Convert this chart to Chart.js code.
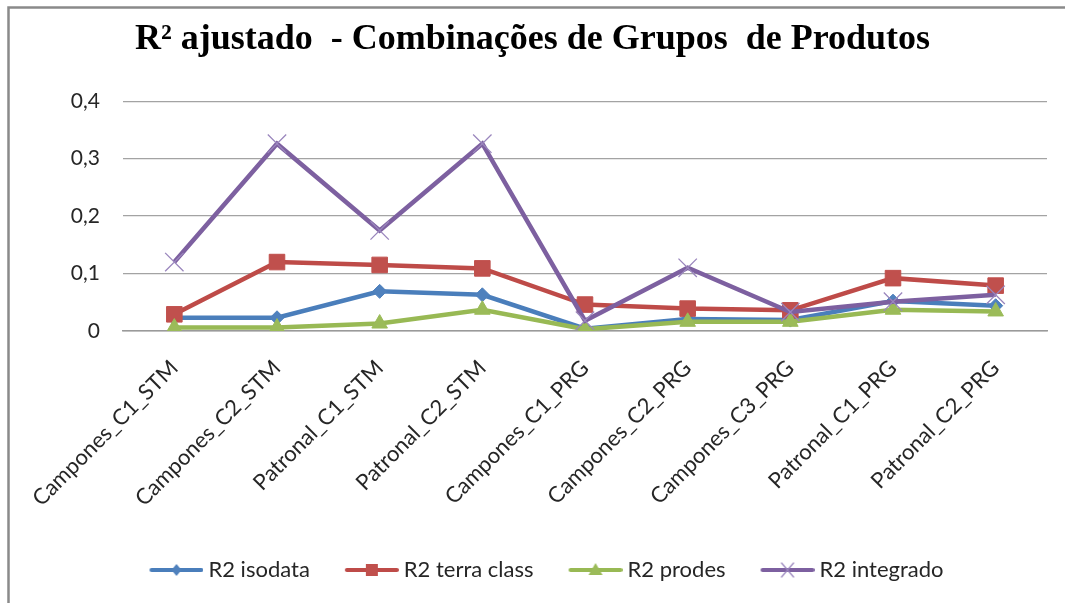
<!DOCTYPE html>
<html>
<head>
<meta charset="utf-8">
<script src="https://cdn.jsdelivr.net/npm/chart.js@4"></script>
<style>
  html, body { margin: 0; padding: 0; background: #ffffff; }
  #wrap { width: 1065px; height: 603px; position: relative; }
</style>
</head>
<body>
<div id="wrap"><canvas id="chart" width="1065" height="603"></canvas></div>
<script>
// Product-group combinations (x axis)
const categories = [
  'Campones_C1_STM', 'Campones_C2_STM', 'Patronal_C1_STM', 'Patronal_C2_STM',
  'Campones_C1_PRG', 'Campones_C2_PRG', 'Campones_C3_PRG', 'Patronal_C1_PRG', 'Patronal_C2_PRG'
];

// Adjusted R² per classification source
const r2Isodata    = [0.023, 0.023, 0.069, 0.063, 0.004, 0.021, 0.019, 0.052, 0.044];
const r2TerraClass = [0.029, 0.120, 0.115, 0.109, 0.046, 0.039, 0.036, 0.092, 0.079];
const r2Prodes     = [0.006, 0.006, 0.013, 0.037, 0.003, 0.016, 0.016, 0.037, 0.034];
const r2Integrado  = [0.120, 0.326, 0.175, 0.326, 0.018, 0.110, 0.033, 0.051, 0.063];

const seriesNames = ['R2 isodata', 'R2 terra class', 'R2 prodes', 'R2 integrado'];

// Y axis tick labels (decimal comma)
const yTickValues = [0, 0.1, 0.2, 0.3, 0.4];
const yTickLabels = ['0', '0,1', '0,2', '0,3', '0,4'];

const titleText = 'R² ajustado  - Combinações de Grupos  de Produtos';

const BLUE = '#4a7ebb', BLUE_PT = '#4f81bd';
const RED = '#be4b48', RED_PT = '#c0504d';
const GREEN = '#98b954', GREEN_PT = '#9bbb59';
const PURPLE = '#7d60a0', PURPLE_PT = '#9a86bd';

// Legend icons: a short line with the series marker in the middle
function legendIcon(lineColor, drawMarker) {
  const c = document.createElement('canvas');
  c.width = 56; c.height = 18;
  const g = c.getContext('2d');
  g.strokeStyle = lineColor;
  g.lineWidth = 4;
  g.lineCap = 'round';
  g.beginPath(); g.moveTo(4, 9); g.lineTo(54, 9); g.stroke();
  drawMarker(g, 29, 9);
  return c;
}
const legendIcons = [
  legendIcon(BLUE, (g, x, y) => {
    g.fillStyle = BLUE_PT;
    g.beginPath(); g.moveTo(x, y - 6); g.lineTo(x + 5, y); g.lineTo(x, y + 6); g.lineTo(x - 5, y); g.closePath(); g.fill();
  }),
  legendIcon(RED, (g, x, y) => {
    g.fillStyle = RED_PT; g.fillRect(x - 6, y - 6, 12, 12);
  }),
  legendIcon(GREEN, (g, x, y) => {
    g.fillStyle = GREEN_PT;
    g.beginPath(); g.moveTo(x, y - 7); g.lineTo(x + 7, y + 5); g.lineTo(x - 7, y + 5); g.closePath(); g.fill();
  }),
  legendIcon(PURPLE, (g, x, y) => {
    g.strokeStyle = PURPLE_PT; g.lineWidth = 1.2;
    g.beginPath(); g.moveTo(x - 6, y - 7); g.lineTo(x + 6, y + 7); g.moveTo(x + 6, y - 7); g.lineTo(x - 6, y + 7); g.stroke();
  })
];

// Gray frame around the chart
const framePlugin = {
  id: 'frame',
  beforeDraw(chart) {
    const ctx = chart.ctx;
    ctx.save();
    ctx.fillStyle = '#ffffff';
    ctx.fillRect(0, 0, chart.width, chart.height);
    ctx.strokeStyle = '#8a8a8a';
    ctx.lineWidth = 2.5;
    ctx.strokeRect(8.5, 7.5, 1200, 800);
    ctx.restore();
  }
};

// The legend row sits a little right of the page centre, under the plot area
const legendShift = {
  id: 'legendShift',
  afterLayout(chart) {
    const lg = chart.legend;
    if (lg) { lg.left += 16; lg.right += 16; }
  }
};

const baseFont = 'Lato, "Open Sans", sans-serif';

new Chart(document.getElementById('chart'), {
  type: 'line',
  data: {
    labels: categories,
    datasets: [
      { label: seriesNames[0], data: r2Isodata, order: 4,
        borderColor: BLUE, backgroundColor: BLUE_PT, borderWidth: 4.5,
        pointStyle: 'rectRot', pointRadius: 7, pointBorderColor: BLUE_PT, pointBackgroundColor: BLUE_PT, pointBorderWidth: 1 },
      { label: seriesNames[1], data: r2TerraClass, order: 3,
        borderColor: RED, backgroundColor: RED_PT, borderWidth: 4.5,
        pointStyle: 'rect', pointRadius: 11, pointBorderColor: RED_PT, pointBackgroundColor: RED_PT, pointBorderWidth: 1 },
      { label: seriesNames[2], data: r2Prodes, order: 2,
        borderColor: GREEN, backgroundColor: GREEN_PT, borderWidth: 4.5,
        pointStyle: 'triangle', pointRadius: 9, pointBorderColor: GREEN_PT, pointBackgroundColor: GREEN_PT, pointBorderWidth: 1 },
      { label: seriesNames[3], data: r2Integrado, order: 1,
        borderColor: PURPLE, backgroundColor: PURPLE_PT, borderWidth: 4.5,
        pointStyle: 'crossRot', pointRadius: 13, pointBorderColor: PURPLE_PT, pointBackgroundColor: PURPLE_PT, pointBorderWidth: 1.3 }
    ]
  },
  options: {
    responsive: false,
    animation: false,
    layout: { padding: { left: 18, right: 18, top: 4, bottom: 12 } },
    elements: { line: { tension: 0 } },
    scales: {
      x: {
        offset: true,
        grid: { display: false, drawTicks: false },
        border: { display: true, color: '#9a9a9a', width: 1.5 },
        ticks: {
          autoSkip: false, maxRotation: 45, minRotation: 45, padding: 24,
          color: '#262626', font: { family: baseFont, size: 22 }
        },
        afterFit(scale) { scale.height = 189; }
      },
      y: {
        min: 0, max: 0.4,
        afterBuildTicks(scale) { scale.ticks = yTickValues.map(v => ({ value: v })); },
        grid: { color: '#a3a3a3', lineWidth: 1.3, drawTicks: false },
        border: { display: false },
        ticks: {
          padding: 23, color: '#262626', font: { family: baseFont, size: 21 },
          callback: (v, i) => yTickLabels[i]
        },
        afterFit(scale) { scale.width = 105; }
      }
    },
    plugins: {
      title: {
        display: true, text: titleText, color: '#000000',
        font: { family: '"Liberation Serif", "Times New Roman", serif', size: 36, weight: 'bold' },
        padding: { top: 14, bottom: 40 }
      },
      legend: {
        position: 'bottom',
        labels: {
          color: '#262626', font: { family: baseFont, size: 22 },
          usePointStyle: true, pointStyleWidth: 44, padding: 39,
          generateLabels(chart) {
            return chart.data.datasets.map((ds, i) => ({
              text: ds.label, pointStyle: legendIcons[i], datasetIndex: i,
              hidden: !chart.isDatasetVisible(i), lineWidth: 0,
              fillStyle: ds.borderColor, strokeStyle: ds.borderColor, fontColor: '#262626'
            }));
          }
        }
      },
      tooltip: { enabled: false }
    }
  },
  plugins: [framePlugin, legendShift]
});
</script>
</body>
</html>
